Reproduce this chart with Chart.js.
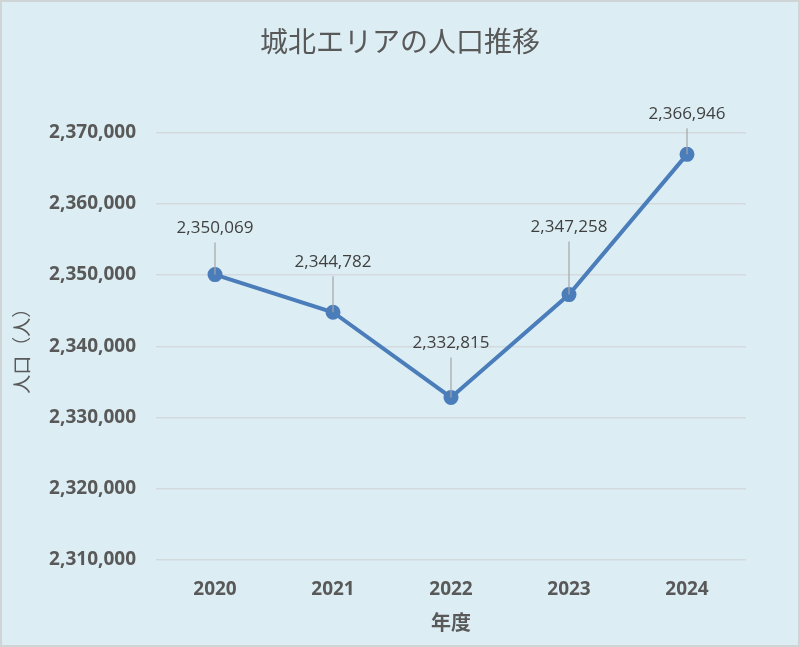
<!DOCTYPE html>
<html>
<head>
<meta charset="utf-8">
<script src="https://cdn.jsdelivr.net/npm/chart.js@4"></script>
<style>
  html, body { margin: 0; padding: 0; background: #ffffff; }
  #wrap { width: 800px; height: 647px; }
</style>
</head>
<body>
<div id="wrap"><canvas id="chartCanvas" width="800" height="647"></canvas></div>
<script>
// データ
const years = ["2020", "2021", "2022", "2023", "2024"];
const population = [2350069, 2344782, 2332815, 2347258, 2366946];
const yMin = 2310000;
const yMax = 2370000;
const yStep = 10000;

const fmt = v => Number(v).toLocaleString('en-US');

// 背景と枠
const bgPlugin = {
    id: 'bg',
    beforeDraw(chart) {
        const c = chart.ctx;
        c.save();
        c.fillStyle = '#dceef4';
        c.fillRect(0, 0, chart.width, chart.height);
        c.strokeStyle = '#cfd4d6';
        c.lineWidth = 2;
        c.strokeRect(1, 1, chart.width - 2, chart.height - 2);
        c.restore();
    }
};

// データラベル（引き出し線つき）
const leaderLabels = {
    id: 'leaderLabels',
    afterDatasetsDraw(chart, args, opts) {
        const c = chart.ctx;
        const meta = chart.getDatasetMeta(0);
        c.save();
        c.font = '17px "Open Sans"';
        c.textAlign = 'center';
        c.textBaseline = 'middle';
        meta.data.forEach((pt, i) => {
            const ly = pt.y - opts.lift[i];
            c.strokeStyle = '#a6a6a6';
            c.lineWidth = 1.2;
            c.beginPath();
            c.moveTo(pt.x, ly + 14);
            c.lineTo(pt.x, pt.y);
            c.stroke();
            c.fillStyle = '#404040';
            c.fillText(fmt(chart.data.datasets[0].data[i]), pt.x, ly);
        });
        c.restore();
    }
};

const ctx = document.getElementById('chartCanvas').getContext('2d');
const chart = new Chart(ctx, {
    type: 'line',
    data: {
        labels: years,
        datasets: [{
            data: population,
            borderColor: '#4a7dba',
            backgroundColor: '#4a7dba',
            borderWidth: 4,
            pointRadius: 5.5,
            pointHoverRadius: 5.5,
            tension: 0
        }]
    },
    options: {
        responsive: false,
        animation: false,
        layout: { padding: 0 },
        plugins: {
            legend: { display: false },
            tooltip: { enabled: false },
            title: {
                display: true,
                text: '城北エリアの人口推移',
                color: '#595959',
                font: { family: '"Noto Sans CJK JP"', size: 28, weight: 'normal' },
                padding: { top: 25, bottom: 74 }
            },
            leaderLabels: { lift: [46, 50, 54, 67, 40] }
        },
        scales: {
            x: {
                offset: true,
                grid: { display: false, drawTicks: false },
                border: { display: false },
                ticks: {
                    color: '#595959',
                    padding: 18,
                    font: { family: '"Open Sans"', size: 19, weight: 'bold' }
                },
                title: {
                    display: true,
                    text: '年度',
                    color: '#595959',
                    font: { family: '"Noto Sans CJK JP"', size: 20, weight: 'bold', lineHeight: 1.2 },
                    padding: { top: 0, bottom: 13 }
                },
                afterFit(scale) { scale.height = 87; }
            },
            y: {
                min: yMin,
                max: yMax,
                grid: { color: '#d3dadd', lineWidth: 1.5, drawTicks: false },
                border: { display: false },
                ticks: {
                    stepSize: yStep,
                    color: '#595959',
                    padding: 20,
                    font: { family: '"Open Sans"', size: 19, weight: 'bold' },
                    callback: v => fmt(v)
                },
                title: {
                    display: true,
                    text: '人口（人）',
                    color: '#595959',
                    font: { family: '"Noto Sans CJK JP"', size: 19, weight: 'normal' },
                    padding: { top: 10, bottom: 0 }
                },
                afterFit(scale) { scale.width = 156; }
            },
            // 右側の余白用（表示なし）
            yRight: {
                position: 'right',
                grid: { display: false, drawTicks: false },
                border: { display: false },
                ticks: { display: false },
                afterFit(scale) { scale.width = 54; }
            }
        }
    },
    plugins: [bgPlugin, leaderLabels]
});
</script>
</body>
</html>
